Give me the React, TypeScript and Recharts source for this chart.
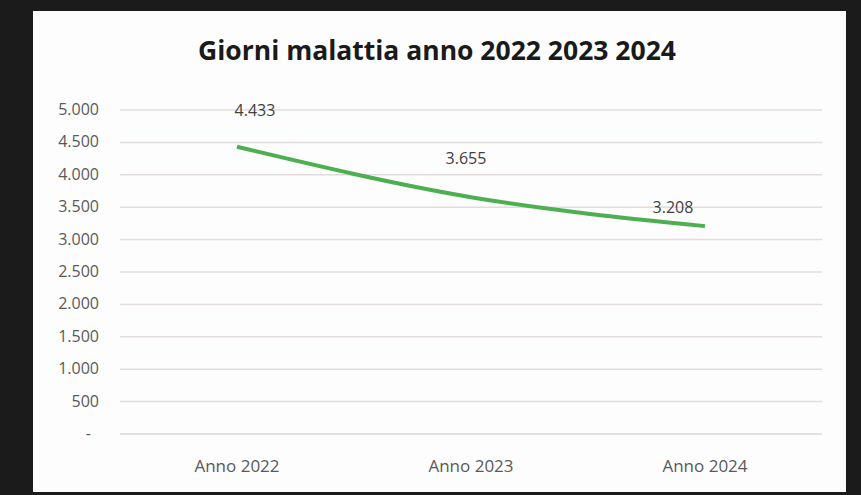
import React from "react";
import { LineChart, Line, XAxis, YAxis, CartesianGrid, LabelList } from "recharts";

const categories = ["Anno 2022", "Anno 2023", "Anno 2024"];
const giorni = [4433, 3655, 3208];
const yTicks = [0, 500, 1000, 1500, 2000, 2500, 3000, 3500, 4000, 4500, 5000];
const title = "Giorni malattia anno 2022 2023 2024";

const data = categories.map((c, i) => ({ name: c, value: giorni[i] }));

const fmt = (v: number) =>
  v === 0 ? "-" : v.toString().replace(/\B(?=(\d{3})+(?!\d))/g, ".");

const FONT = "'Open Sans', 'Liberation Sans', sans-serif";

const YTick = (props: any) => {
  const { y, payload } = props;
  const v = payload.value;
  return (
    <text
      x={v === 0 ? 58 : 66}
      y={y}
      dy={5}
      textAnchor="end"
      fill="#595959"
      fontSize={16}
      fontFamily={FONT}
    >
      {fmt(v)}
    </text>
  );
};

const labelShift = [
  { dx: 18, dy: -31 },
  { dx: -5, dy: -33 },
  { dx: -32, dy: -13 },
];

const DataLabel = (props: any) => {
  const { x, y, value, index } = props;
  const s = labelShift[index] || { dx: 0, dy: -10 };
  return (
    <text
      x={x + s.dx}
      y={y + s.dy}
      textAnchor="middle"
      fill="#404040"
      fontSize={16}
      fontFamily={FONT}
    >
      {fmt(value)}
    </text>
  );
};

export default function App() {
  return (
    <div
      style={{
        position: "absolute",
        left: 0,
        top: 0,
        width: 861,
        height: 495,
        background: "#1b1b1b",
        overflow: "hidden",
      }}
    >
      <div
        style={{
          position: "absolute",
          left: 33,
          top: 11,
          width: 813,
          height: 481,
          background: "#fdfdfd",
        }}
      >
        <div
          style={{
            position: "absolute",
            left: 0,
            top: 22,
            width: 808,
            textAlign: "center",
            fontFamily: FONT,
            fontWeight: 700,
            fontSize: 26.5,
            color: "#1a1a1a",
            lineHeight: "34px",
          }}
        >
          {title}
        </div>
        <div style={{ position: "absolute", left: 0, top: 0 }}>
          <LineChart
            width={813}
            height={481}
            data={data}
            margin={{ top: 99, right: 24, bottom: 28, left: 0 }}
          >
            <CartesianGrid vertical={false} stroke="#e3dcdc" strokeWidth={1.5} />
            <XAxis
              dataKey="name"
              padding={{ left: 117, right: 117 }}
              axisLine={{ stroke: "#e3dcdc", strokeWidth: 1.5 }}
              tickLine={false}
              tickMargin={20}
              height={30}
              tick={{ fill: "#595959", fontSize: 17, fontFamily: FONT }}
            />
            <YAxis
              width={87}
              domain={[0, 5000]}
              ticks={yTicks}
              axisLine={false}
              tickLine={false}
              tick={<YTick />}
            />
            <Line
              type="monotone"
              dataKey="value"
              stroke="#4caf50"
              strokeWidth={4}
              dot={false}
              isAnimationActive={false}
            >
              <LabelList dataKey="value" content={<DataLabel />} />
            </Line>
          </LineChart>
        </div>
      </div>
    </div>
  );
}
